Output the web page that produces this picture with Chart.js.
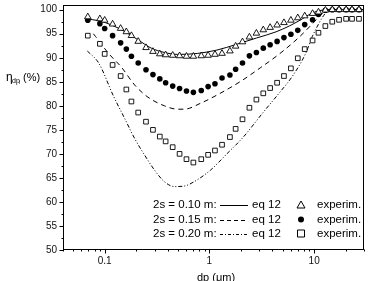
<!DOCTYPE html>
<html lang="en">
<head>
  <meta charset="UTF-8">
  <title>Collection efficiency vs dp</title>
  <style>
    html, body { margin: 0; padding: 0; background: #fff; }
  </style>
</head>
<body>
  <canvas id="grafico" width="369" height="281"></canvas>

  <script src="https://cdn.jsdelivr.net/npm/chart.js"></script>

  <script>
    // measured particle sizes (um), shared by the three experimental series
    const dpExp = [0.069, 0.090, 0.100, 0.119, 0.142, 0.161, 0.180, 0.209, 0.248, 0.289,
                   0.336, 0.382, 0.446, 0.519, 0.604, 0.703, 0.836, 0.972, 1.13, 1.32,
                   1.57, 1.78, 2.07, 2.41, 2.81, 3.27, 3.80, 4.43, 5.15, 6.00,
                   6.98, 8.13, 9.66, 11.0, 12.8, 14.9, 17.3, 20.2, 23.0, 26.8];
    const exp010 = [98.5, 98.1, 97.8, 97.0, 96.1, 95.4, 94.6, 93.4, 92.1, 91.3,
                    90.8, 90.6, 90.5, 90.4, 90.3, 90.3, 90.4, 90.5, 90.7, 90.9,
                    91.4, 92.4, 93.3, 94.3, 95.1, 95.8, 96.3, 96.8, 97.3, 97.8,
                    98.3, 98.7, 99.2, 99.5, 99.9, 100, 100, 100, 100, 100];
    const exp015 = [97.8, 97.1, 96.1, 94.6, 93.1, 91.8, 90.3, 88.9, 87.5, 86.5,
                    85.6, 84.8, 84.1, 83.6, 83.1, 82.8, 83.2, 84.0, 84.6, 85.8,
                    86.4, 87.6, 88.9, 90.4, 91.1, 92.0, 92.7, 93.4, 94.2, 94.9,
                    95.7, 96.9, 97.9, 99.0, 99.9, 100, 100, 100, 100, 100];
    const exp020 = [94.6, 92.9, 90.8, 88.5, 86.2, 83.4, 80.9, 78.6, 76.7, 75.0,
                    73.6, 72.6, 71.4, 70.0, 68.9, 68.2, 68.9, 69.8, 70.7, 71.9,
                    73.5, 75.2, 77.2, 79.6, 81.3, 82.6, 83.7, 84.8, 86.2, 87.8,
                    89.9, 91.8, 93.6, 95.2, 96.6, 97.5, 97.9, 98.1, 98.1, 98.1];

    // eq 12 curves
    const dpEq010 = [0.066, 0.088, 0.117, 0.157, 0.209, 0.279, 0.372, 0.497, 0.766, 1.18,
                     1.82, 2.81, 4.33, 5.78, 7.18, 9.6, 11.9, 15, 30];
    const eq010 = [98.1, 97.7, 96.8, 95.4, 93.7, 92.0, 91.1, 90.7, 90.9, 91.6,
                   92.8, 94.1, 95.4, 96.6, 97.7, 99.3, 99.9, 100, 100];
    const dpEq015 = [0.078, 0.082, 0.109, 0.145, 0.194, 0.259, 0.372, 0.497, 0.574, 0.835,
                     1.29, 1.99, 3.06, 4.72, 7.29, 9.66, 12.0, 14.3, 30];
    const eq015 = [95.0, 94.4, 90.9, 88.0, 84.3, 81.8, 80.0, 79.3, 79.3, 80.6,
                   82.7, 85.1, 87.9, 90.9, 94.4, 97.1, 99.2, 100, 100];
    const dpEq020 = [0.0683, 0.0877, 0.1215, 0.1566, 0.1944, 0.2414, 0.2998, 0.3723, 0.4624, 0.5742,
                     0.7131, 1.022, 1.467, 2.107, 3.25, 4.655, 6.22, 8.30, 9.60, 11.07,
                     12.34, 13.75, 30];
    const eq020 = [91.4, 88.9, 82.0, 77.2, 73.1, 69.7, 66.6, 64.2, 63.2, 63.3,
                   64.2, 66.6, 70.0, 73.5, 78.6, 82.7, 86.2, 90.9, 94.4, 97.1,
                   98.8, 99.9, 100];

    const xTicks = [0.1, 1, 10];
    const xTickLabels = ['0.1', '1', '10'];
    const yTicks = [50, 55, 60, 65, 70, 75, 80, 85, 90, 95, 100];

    const fuente = 'Arial, "Liberation Sans", sans-serif';
    const pts = (xs, ys) => xs.map((x, i) => ({ x: x, y: ys[i] }));

    // frame, minor ticks, axis titles and the in-plot legend
    const extras = {
      id: 'extras',
      afterDraw(chart) {
        const { ctx, chartArea: a, scales } = chart;
        const sx = scales.x, sy = scales.y;
        const L = Math.round(a.left) + 0.5, R = Math.round(a.right) - 0.5;
        const T = Math.round(a.top) + 0.5, B = Math.round(a.bottom) - 0.5;
        ctx.save();
        ctx.strokeStyle = '#000';
        ctx.lineWidth = 1;
        ctx.strokeRect(L, T, R - L, B - T);

        ctx.beginPath();
        for (let v = 50; v <= 100; v += 2.5) {
          const py = Math.round(sy.getPixelForValue(v)) + 0.5;
          const len = v % 5 === 0 ? 4 : 2;
          ctx.moveTo(L - len, py); ctx.lineTo(L, py);
        }
        for (let n = -2; n <= 1; n++) {
          for (let k = 1; k <= 9; k++) {
            const v = k * Math.pow(10, n);
            if (v < sx.min || v > sx.max) continue;
            const px = Math.round(sx.getPixelForValue(v)) + 0.5;
            const len = k === 1 ? 4 : 2;
            ctx.moveTo(px, B); ctx.lineTo(px, B + len);
          }
        }
        ctx.stroke();

        // y title: eta_dp_i (%)
        ctx.fillStyle = '#000';
        ctx.textBaseline = 'alphabetic';
        ctx.textAlign = 'left';
        ctx.font = '12px ' + fuente;
        ctx.fillText('\u03b7', 6, 81);
        ctx.font = '7px ' + fuente;
        ctx.fillText('dp', 12, 83);
        ctx.font = '5px ' + fuente;
        ctx.fillText('i', 19, 84);
        ctx.font = '11px ' + fuente;
        ctx.fillText('(%)', 23, 81);

        // x title
        ctx.textAlign = 'center';
        ctx.textBaseline = 'top';
        ctx.fillText('dp (\u03bcm)', 216, 272);

        // legend rows
        const filas = [
          { label: '2s = 0.10 m:', dash: [], marker: 'tri' },
          { label: '2s = 0.15 m:', dash: [4, 3], marker: 'dot' },
          { label: '2s = 0.20 m:', dash: [3, 2, 1, 2], marker: 'sq' }
        ];
        const filaY = [205, 219.5, 233.5];
        ctx.textBaseline = 'middle';
        ctx.textAlign = 'left';
        ctx.font = '11.5px ' + fuente;
        filas.forEach((f, i) => {
          const yy = filaY[i];
          ctx.fillText(f.label, 153, yy);
          ctx.beginPath();
          ctx.setLineDash(f.dash);
          ctx.moveTo(220, Math.round(yy) + 0.5);
          ctx.lineTo(248, Math.round(yy) + 0.5);
          ctx.stroke();
          ctx.setLineDash([]);
          ctx.fillText('eq 12', 252, yy);
          ctx.fillText('experim.', 317, yy);
          ctx.beginPath();
          if (f.marker === 'tri') {
            ctx.moveTo(301, yy - 4); ctx.lineTo(305, yy + 3); ctx.lineTo(297, yy + 3); ctx.closePath();
            ctx.stroke();
          } else if (f.marker === 'dot') {
            ctx.arc(301, yy, 3, 0, Math.PI * 2);
            ctx.fill();
          } else {
            ctx.rect(297.5, yy - 3.5, 7, 7);
            ctx.stroke();
          }
        });
        ctx.restore();
      }
    };

    const lienzo = document.getElementById('grafico');
    new Chart(lienzo, {
      type: 'line',
      data: {
        datasets: [
          { label: '2s = 0.10 m eq 12', data: pts(dpEq010, eq010), borderColor: '#000', borderWidth: 1,
            pointRadius: 0, cubicInterpolationMode: 'monotone', order: 2 },
          { label: '2s = 0.15 m eq 12', data: pts(dpEq015, eq015), borderColor: '#000', borderWidth: 1,
            borderDash: [5, 4], pointRadius: 0, cubicInterpolationMode: 'monotone', order: 2 },
          { label: '2s = 0.20 m eq 12', data: pts(dpEq020, eq020), borderColor: '#000', borderWidth: 1,
            borderDash: [4, 2, 1, 2, 1, 2], pointRadius: 0, cubicInterpolationMode: 'monotone', order: 2 },
          { label: '2s = 0.10 m experim.', data: pts(dpExp, exp010), showLine: false, pointStyle: 'triangle',
            pointRadius: 3.8, pointBackgroundColor: '#fff', pointBorderColor: '#000', pointBorderWidth: 0.9, order: 1 },
          { label: '2s = 0.15 m experim.', data: pts(dpExp, exp015), showLine: false, pointStyle: 'circle',
            pointRadius: 2.8, pointBackgroundColor: '#000', pointBorderColor: '#000', pointBorderWidth: 0, order: 1 },
          { label: '2s = 0.20 m experim.', data: pts(dpExp, exp020), showLine: false, pointStyle: 'rect',
            pointRadius: 3.3, pointBackgroundColor: '#fff', pointBorderColor: '#000', pointBorderWidth: 0.9, order: 1 }
        ]
      },
      options: {
        responsive: false,
        animation: false,
        layout: { padding: { top: 1, right: 1, left: 0, bottom: 0 } },
        plugins: {
          legend: { display: false },
          tooltip: { enabled: false }
        },
        scales: {
          x: {
            type: 'logarithmic',
            min: 0.04,
            max: 30,
            grid: { display: false, drawTicks: false },
            border: { display: false },
            ticks: {
              color: '#111',
              font: { family: fuente, size: 10 },
              padding: 5,
              autoSkip: false,
              maxRotation: 0,
              callback: (v) => {
                const i = xTicks.indexOf(v);
                return i >= 0 ? xTickLabels[i] : '';
              }
            },
            afterBuildTicks: (s) => { s.ticks = xTicks.map(v => ({ value: v })); },
            afterFit: (s) => { s.height = 31; s.paddingLeft = 0; s.paddingRight = 0; }
          },
          y: {
            type: 'linear',
            min: 50,
            max: 101,
            grid: { display: false, drawTicks: false },
            border: { display: false },
            ticks: {
              color: '#111',
              font: { family: fuente, size: 10 },
              padding: 6
            },
            afterBuildTicks: (s) => { s.ticks = yTicks.map(v => ({ value: v })); },
            afterFit: (s) => { s.width = 63; s.paddingTop = 0; s.paddingBottom = 0; }
          }
        }
      },
      plugins: [extras]
    });
  </script>
</body>
</html>
